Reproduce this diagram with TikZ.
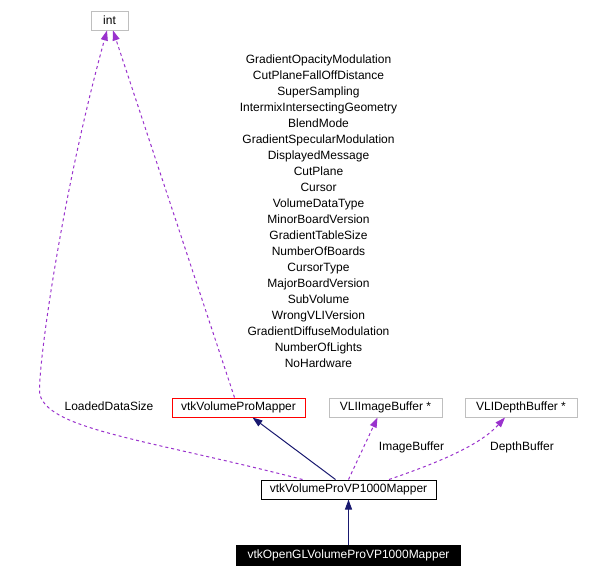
\documentclass[tikz,border=0pt]{standalone}
\usepackage{fontspec}
\setmainfont{Liberation Sans}
\usetikzlibrary{arrows.meta}
\definecolor{dep}{HTML}{9A32CD}
\definecolor{inh}{HTML}{191970}
\definecolor{gbox}{HTML}{BFBFBF}
\begin{document}
\begin{tikzpicture}[x=1pt,y=-1pt,
  every node/.style={font=\fontsize{12}{16}\selectfont, inner sep=0pt},
  cls/.style={draw=gbox, line width=1pt, minimum height=19pt, fill=white},
  redcls/.style={draw=red, line width=1pt, minimum height=19pt, fill=white},
  blkcls/.style={draw=black, line width=1pt, minimum height=19pt, fill=white},
  sel/.style={fill=black, text=white, minimum height=21pt},
  depedge/.style={draw=dep, line width=1pt, dash pattern=on 3pt off 3pt, -{Triangle[length=10pt,width=7pt,fill=dep]}},
  inhedge/.style={draw=inh, line width=1pt, -{Triangle[length=10pt,width=7pt,fill=inh]}},
  lbl/.style={}
]
\useasboundingbox (0,0) rectangle (604,581);
\fill[white] (0,0) rectangle (604,581);

\node[cls, minimum width=37pt] (int) at (109.5,20.5) {int};
\node[redcls, minimum width=133pt] (vpm) at (238.5,407.5) {vtkVolumeProMapper};
\node[cls, minimum width=113pt] (img) at (385.5,407.5) {VLIImageBuffer *};
\node[cls, minimum width=112pt] (dpt) at (521,407.5) {VLIDepthBuffer *};
\node[blkcls, minimum width=175pt] (vp) at (348.5,489.5) {vtkVolumeProVP1000Mapper};
\node[sel, minimum width=225pt] (ogl) at (348.5,555.5) {vtkOpenGLVolumeProVP1000Mapper};

\node[lbl] (lds) at (109,406) {LoadedDataSize};
\node[lbl] (ibl) at (411.5,447) {ImageBuffer};
\node[lbl] (dbl) at (522,447) {DepthBuffer};
\node[lbl, align=center, anchor=north] (attrs) at (318.5,55) {GradientOpacityModulation\\CutPlaneFallOffDistance\\SuperSampling\\IntermixIntersectingGeometry\\BlendMode\\GradientSpecularModulation\\DisplayedMessage\\CutPlane\\Cursor\\VolumeDataType\\MinorBoardVersion\\GradientTableSize\\NumberOfBoards\\CursorType\\MajorBoardVersion\\SubVolume\\WrongVLIVersion\\GradientDiffuseModulation\\NumberOfLights\\NoHardware};

% inheritance
\draw[inhedge] (ogl.north) -- (vp.south);
\draw[inhedge] ([xshift=-13pt]vp.north) -- ([xshift=14pt]vpm.south);

% dependencies
\draw[depedge] ([xshift=-46pt]vp.north) .. controls (150,440) and (50,430) .. (40,395)
   .. controls (36,380) and (60,200) .. ([xshift=-2.5pt]int.south);
\draw[depedge] ([xshift=-4pt]vpm.north) -- ([xshift=3.5pt]int.south);
\draw[depedge] (vp.north) -- ([xshift=-8pt]img.south);
\draw[depedge] ([xshift=40.5pt]vp.north) .. controls (440,462) and (480,445) .. ([xshift=-16pt]dpt.south);
\end{tikzpicture}
\end{document}
